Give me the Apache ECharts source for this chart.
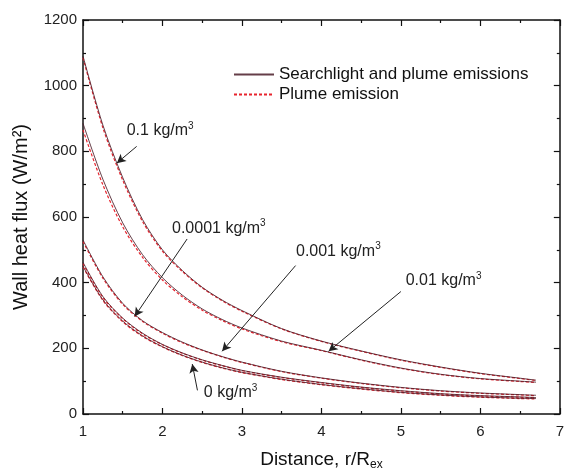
<!DOCTYPE html>
<html>
<head>
<meta charset="utf-8">
<script src="https://cdn.jsdelivr.net/npm/echarts@6/dist/echarts.min.js"></script>
<style>
  html, body { margin: 0; padding: 0; background: #fff; }
  #chart { width: 567px; height: 476px; }
</style>
</head>
<body>
<div id="chart"></div>
<script>
// distance r/Rex
var distance = [1, 1.25, 1.5, 1.75, 2, 2.25, 2.5, 2.75, 3, 3.5, 4, 4.5, 5, 5.5, 6, 6.5, 6.7];

// searchlight + plume (solid)
var sp_01    = [1090, 880, 720, 592, 500, 437, 386, 347, 315, 260, 222, 192, 165, 143, 124, 109, 103];
var sp_001   = [885, 715, 582, 485, 415, 362, 320, 288, 262, 222, 194, 165, 140, 121, 108, 100, 97];
var sp_0001  = [530, 418, 337, 284, 248, 219, 195, 175, 158, 130, 110, 94, 81, 71, 64, 59, 57];
var sp_00001 = [462, 358, 292, 246, 212, 186, 165, 148, 133, 112, 96, 82, 71, 62, 56, 52, 50];
var sp_0     = [450, 348, 283, 238, 205, 179, 158, 141, 127, 106, 90, 77, 66, 58, 52, 48, 47];

// plume only (dashed)
var p_01    = [1085, 872, 712, 586, 496, 434, 384, 345, 313, 259, 221, 191, 164, 142, 123, 108, 102];
var p_001   = [865, 698, 570, 477, 408, 357, 316, 285, 259, 220, 193, 164, 139, 120, 107, 99, 96];
var p_0001  = [525, 414, 334, 282, 246, 217, 194, 174, 157, 129, 109, 93, 80, 70, 63, 58, 56];
var p_00001 = [458, 355, 290, 244, 211, 185, 164, 147, 132, 111, 95, 81, 70, 61, 55, 51, 49];
var p_0     = [448, 346, 281, 236, 204, 178, 157, 140, 126, 105, 89, 76, 65, 57, 51, 47, 46];

var xTicks = [1, 2, 3, 4, 5, 6, 7];
var yTicks = [0, 200, 400, 600, 800, 1000, 1200];

var SOLID = 'Searchlight and plume emissions';
var DASH = 'Plume emission';

// annotation: label text, label anchor, arrow tail, arrow tip (data coords)
var notes = [
    { text: '0.1', at: [1.55, 862], from: [1.675, 815], to: [1.425, 764] },
    { text: '0.0001', at: [2.12, 566], from: [2.31, 533], to: [1.65, 297] },
    { text: '0.001', at: [3.68, 496], from: [3.675, 452], to: [2.75, 191] },
    { text: '0.01', at: [5.06, 405], from: [5.0, 373], to: [4.09, 191] },
    { text: '0', at: [2.52, 64], from: [2.44, 72], to: [2.375, 152] }
];

function pairs(ys) {
    return distance.map(function (x, i) { return [x, ys[i]]; });
}

var chart = echarts.init(document.getElementById('chart'));

var font = 'Liberation Sans, Arial, sans-serif';
var series = [];

[p_01, p_001, p_0001, p_00001, p_0].forEach(function (ys) {
    series.push({
        name: DASH,
        type: 'line',
        data: pairs(ys),
        smooth: 0.3,
        symbol: 'none',
        lineStyle: { color: '#e8232d', width: 1.2, type: [3, 2] },
        itemStyle: { color: '#e8232d' },
        z: 2
    });
});
[sp_01, sp_001, sp_0001, sp_00001, sp_0].forEach(function (ys) {
    series.push({
        name: SOLID,
        type: 'line',
        data: pairs(ys),
        smooth: 0.3,
        symbol: 'none',
        lineStyle: { color: '#4a1c28', width: 1, opacity: 0.85 },
        itemStyle: { color: '#222' },
        z: 3
    });
});

// arrows + labels
series.push({
    type: 'line',
    data: [],
    silent: true,
    markLine: {
        silent: true,
        symbol: ['none', 'arrow'],
        symbolSize: [7, 9],
        label: { show: false },
        lineStyle: { color: '#222', width: 1, type: 'solid' },
        data: notes.map(function (n) {
            return [{ coord: n.from }, { coord: n.to }];
        })
    },
    markPoint: {
        silent: true,
        symbol: 'circle',
        symbolSize: 0,
        label: {
            show: true,
            position: 'right',
            distance: 0,
            fontFamily: font,
            fontSize: 16,
            color: '#222',
            rich: {
                a: { fontFamily: font, fontSize: 16, color: '#222' },
                s: { fontFamily: font, fontSize: 10, color: '#222', padding: [0, 0, 10, 0] }
            }
        },
        data: notes.map(function (n) {
            return {
                coord: n.at,
                label: { formatter: '{a|' + n.text + ' kg/m}{s|3}' }
            };
        })
    }
});

var option = {
    animation: false,
    backgroundColor: '#fff',
    grid: { left: 83, right: 4, top: 20, bottom: 60 },
    legend: {
        data: [SOLID, DASH],
        orient: 'vertical',
        left: 228,
        top: 61,
        itemWidth: 40,
        itemHeight: 12,
        itemGap: 3,
        itemStyle: { opacity: 0 },
        textStyle: { fontFamily: font, fontSize: 17, color: '#111' }
    },
    xAxis: [{
        type: 'value',
        min: 1, max: 7, interval: 1,
        name: '{a|Distance, r/R}{b|ex}',
        nameLocation: 'middle',
        nameGap: 35,
        nameTextStyle: {
            rich: {
                a: { fontFamily: font, fontSize: 19, color: '#111' },
                b: { fontFamily: font, fontSize: 12, color: '#111', padding: [10, 0, 0, 0] }
            }
        },
        axisLine: { lineStyle: { color: '#111', width: 1.5 } },
        axisTick: { inside: true, length: 6, lineStyle: { color: '#111', width: 1.2 } },
        minorTick: { show: true, splitNumber: 2, length: 3, lineStyle: { color: '#111', width: 1.2 } },
        axisLabel: {
            fontFamily: font, fontSize: 15, color: '#222', margin: 10,
            formatter: function (v) { return xTicks.indexOf(v) >= 0 ? String(v) : ''; }
        },
        splitLine: { show: false }
    }, {
        type: 'value',
        position: 'top',
        min: 1, max: 7, interval: 1,
        axisLine: { show: true, onZero: false, lineStyle: { color: '#111', width: 1.5 } },
        axisTick: { inside: true, length: 6, lineStyle: { color: '#111', width: 1.2 } },
        minorTick: { show: true, splitNumber: 2, length: 3, lineStyle: { color: '#111', width: 1.2 } },
        axisLabel: { show: false },
        splitLine: { show: false }
    }],
    yAxis: [{
        type: 'value',
        min: 0, max: 1200, interval: 200,
        name: 'Wall heat flux (W/m\u00B2)',
        nameLocation: 'middle',
        nameGap: 52,
        nameTextStyle: { fontFamily: font, fontSize: 20, color: '#111' },
        axisLine: { show: true, lineStyle: { color: '#111', width: 1.5 } },
        axisTick: { inside: true, length: 6, lineStyle: { color: '#111', width: 1.2 } },
        minorTick: { show: true, splitNumber: 2, length: 3, lineStyle: { color: '#111', width: 1.2 } },
        axisLabel: {
            fontFamily: font, fontSize: 15, color: '#222', margin: 6,
            formatter: function (v) { return yTicks.indexOf(v) >= 0 ? String(v) : ''; }
        },
        splitLine: { show: false }
    }, {
        type: 'value',
        position: 'right',
        min: 0, max: 1200, interval: 200,
        axisLine: { show: true, onZero: false, lineStyle: { color: '#111', width: 1.5 } },
        axisTick: { inside: true, length: 6, lineStyle: { color: '#111', width: 1.2 } },
        minorTick: { show: true, splitNumber: 2, length: 3, lineStyle: { color: '#111', width: 1.2 } },
        axisLabel: { show: false },
        splitLine: { show: false }
    }],
    series: series
};

chart.setOption(option);
</script>
</body>
</html>
